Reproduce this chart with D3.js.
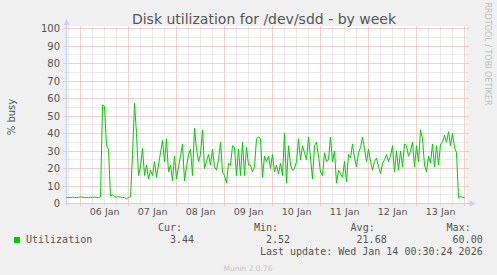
<!DOCTYPE html>
<html>
<head>
<meta charset="utf-8">
<script src="https://cdn.jsdelivr.net/npm/d3@7"></script>
<style>
  body { margin: 0; background: #f0f0f0; }
  svg { display: block; font-family: "DejaVu Sans", sans-serif; }
  .mono { font-family: "DejaVu Sans Mono", monospace; }
</style>
</head>
<body>
<svg id="vis" width="497" height="275"></svg>
<script>
// hourly samples, first one at the left edge of the graph
const startTime = new Date(2026, 0, 5, 16, 54)
const stepHours = 1
const utilization = [
  3.4, 3.5, 3.4, 3.6, 3.5, 3.3, 3.5, 3.8, 3.6, 3.4, 3.3, 3.5, 3.6, 3.4, 3.7, 3.5, 3.4, 3.8,
  56.3, 55.5, 33, 31, 4.2,
  5.0, 3.8, 3.7, 3.9, 3.6, 3.5, 3.3, 2.6, 3.5, 3.8,
  28, 57.2, 40, 16, 21, 31.5,
  16, 22, 14, 19, 16, 24, 15, 22, 29, 36, 24, 37, 18, 22, 13, 27, 14, 21, 27, 34,
  13, 21, 28, 31, 16, 43, 31, 24, 28, 42, 20, 24, 28, 22, 31, 21, 19, 25, 35, 18,
  16, 11.6, 23, 22, 33, 32, 16, 31, 16,
  35, 16, 32, 22, 22, 18, 21, 37, 38, 37, 15, 27, 24, 27, 20, 28, 18, 22, 17, 23,
  16, 40, 11.6, 33, 22, 19, 20, 24, 37, 25, 33, 29, 25, 38, 26, 14, 33, 35, 27, 18,
  16, 29, 24, 25, 38, 24, 30, 11.6, 19, 17, 15, 24, 12.5, 28, 26, 34, 26, 21, 29, 32,
  38, 31, 24, 31, 24, 19, 24, 26, 21, 17, 23, 25, 28, 24, 27, 33, 18, 30, 19, 30,
  21, 34, 33, 27, 30, 35, 21, 33, 24, 42, 37, 22, 18, 27, 23, 34, 21, 33, 22, 34,
  35, 39, 35, 41, 33, 40, 32, 29, 3.2, 4.0, 3.3, 3.44
]
const yTicks = [0, 10, 20, 30, 40, 50, 60, 70, 80, 90, 100]
const yMinorTicks = [5, 15, 25, 35, 45, 55, 65, 75, 85, 95]
const statLabels = ['Cur:', 'Min:', 'Avg:', 'Max:']
const statValues = ['3.44', '2.52', '21.68', '60.00']
const seriesName = 'Utilization'
const lastUpdate = 'Last update: Wed Jan 14 00:30:24 2026'

const svg = d3.select('#vis')
const plotLeft = 66.5, plotRight = 466.5, plotTop = 28.5, plotBottom = 203.5
const endTime = new Date(startTime.getTime() + 400 * 1800 * 1000)

const x = d3.scaleTime().domain([startTime, endTime]).range([plotLeft, plotRight])
const y = d3.scaleLinear().domain([0, 100]).range([plotBottom, plotTop])
const px = v => Math.floor(v) + 0.5

const minorColor = '#d4d4d4'
const majorColor = '#e8a3a3'
const axisColor = '#c9cff2'

// canvas
svg.append('rect')
  .attr('x', plotLeft).attr('y', 26)
  .attr('width', plotRight - plotLeft).attr('height', plotBottom - 26)
  .attr('fill', '#fff')

const grid = svg.append('g').attr('stroke-dasharray', '1,1').attr('stroke-width', 1)

// vertical grid: 6 hours minor, day major
const sixHours = d3.timeHour.every(6).range(startTime, endTime)
  .filter(d => d.getHours() !== 0)
grid.selectAll('.vmin')
  .data(sixHours)
  .enter().append('line')
  .attr('x1', d => px(x(d))).attr('x2', d => px(x(d)))
  .attr('y1', plotTop - 2).attr('y2', plotBottom + 2)
  .attr('stroke', minorColor)
grid.selectAll('.vmaj')
  .data(d3.timeDay.range(startTime, endTime))
  .enter().append('line')
  .attr('x1', d => px(x(d))).attr('x2', d => px(x(d)))
  .attr('y1', plotTop - 2).attr('y2', plotBottom + 2)
  .attr('stroke', majorColor)

// horizontal grid
grid.selectAll('.hmin')
  .data(yMinorTicks)
  .enter().append('line')
  .attr('x1', plotLeft - 2).attr('x2', plotRight + 2)
  .attr('y1', d => px(y(d))).attr('y2', d => px(y(d)))
  .attr('stroke', minorColor)
grid.selectAll('.hmaj')
  .data(yTicks.filter(d => d > 0))
  .enter().append('line')
  .attr('x1', plotLeft - 3).attr('x2', plotRight + 2)
  .attr('y1', d => px(y(d))).attr('y2', d => px(y(d)))
  .attr('stroke', majorColor)

// axes with arrows
svg.append('line')
  .attr('x1', plotLeft).attr('x2', plotLeft).attr('y1', plotBottom + 2).attr('y2', 24)
  .attr('stroke', axisColor)
svg.append('line')
  .attr('x1', plotLeft - 2).attr('x2', plotRight + 4).attr('y1', plotBottom).attr('y2', plotBottom)
  .attr('stroke', axisColor)
svg.append('path')
  .attr('d', `M${plotLeft - 3},25 L${plotLeft},19 L${plotLeft + 3},25 Z`)
  .attr('fill', axisColor)
svg.append('path')
  .attr('d', `M${plotRight + 3},${plotBottom - 3} L${plotRight + 9},${plotBottom} L${plotRight + 3},${plotBottom + 3} Z`)
  .attr('fill', axisColor)

// data line
const line = d3.line()
  .x((d, i) => x(new Date(startTime.getTime() + i * stepHours * 3600 * 1000)))
  .y(d => y(d))
svg.append('path')
  .datum(utilization)
  .attr('d', line)
  .attr('fill', 'none')
  .attr('stroke', '#00cc00')
  .attr('stroke-width', 1)

// y tick labels
svg.append('g')
  .selectAll('text')
  .data(yTicks)
  .enter().append('text')
  .attr('x', 60).attr('y', d => y(d))
  .attr('dy', '0.36em')
  .attr('text-anchor', 'end')
  .attr('font-size', 10)
  .attr('fill', '#555')
  .text(d => d)

// x labels at midday
const fmt = d3.timeFormat('%d %b')
const noons = d3.timeDay.range(startTime, endTime)
  .map(d => d3.timeHour.offset(d, 12))
  .filter(d => d >= startTime && d <= endTime)
svg.append('g')
  .selectAll('text')
  .data(noons)
  .enter().append('text')
  .attr('x', d => x(d)).attr('y', 215)
  .attr('text-anchor', 'middle')
  .attr('font-size', 9.5)
  .attr('fill', '#555')
  .text(d => fmt(d))

// titles
svg.append('text')
  .attr('x', 264).attr('y', 24)
  .attr('text-anchor', 'middle')
  .attr('font-size', 14)
  .attr('fill', '#555')
  .text('Disk utilization for /dev/sdd - by week')
svg.append('text')
  .attr('transform', 'translate(15,117) rotate(-90)')
  .attr('text-anchor', 'middle')
  .attr('font-size', 10)
  .attr('fill', '#555')
  .text('% busy')
svg.append('text')
  .attr('transform', 'translate(485,54) rotate(90)')
  .attr('text-anchor', 'middle')
  .attr('font-size', 8)
  .attr('fill', '#bdbdbd')
  .text('RRDTOOL / TOBI OETIKER')

// legend
const statRight = [194, 290, 386.7, 482.7]
const legend = svg.append('g').attr('class', 'mono').attr('font-size', 10).attr('fill', '#555')
legend.selectAll('.lab')
  .data(statLabels)
  .enter().append('text')
  .attr('x', (d, i) => statRight[i] - 12)
  .attr('y', 230.5)
  .attr('text-anchor', 'end')
  .text(d => d)
legend.selectAll('.val')
  .data(statValues)
  .enter().append('text')
  .attr('x', (d, i) => statRight[i])
  .attr('y', 243)
  .attr('text-anchor', 'end')
  .text(d => d)
legend.append('text').attr('x', 26).attr('y', 243).text(seriesName)
legend.append('text').attr('x', 482.7).attr('y', 255)
  .attr('text-anchor', 'end').text(lastUpdate)
svg.append('rect')
  .attr('x', 14).attr('y', 237).attr('width', 6).attr('height', 6)
  .attr('fill', '#00cc00')

svg.append('text')
  .attr('x', 248).attr('y', 271)
  .attr('text-anchor', 'middle')
  .attr('font-size', 7.5)
  .attr('fill', '#c4c4c4')
  .text('Munin 2.0.76')
</script>
</body>
</html>
